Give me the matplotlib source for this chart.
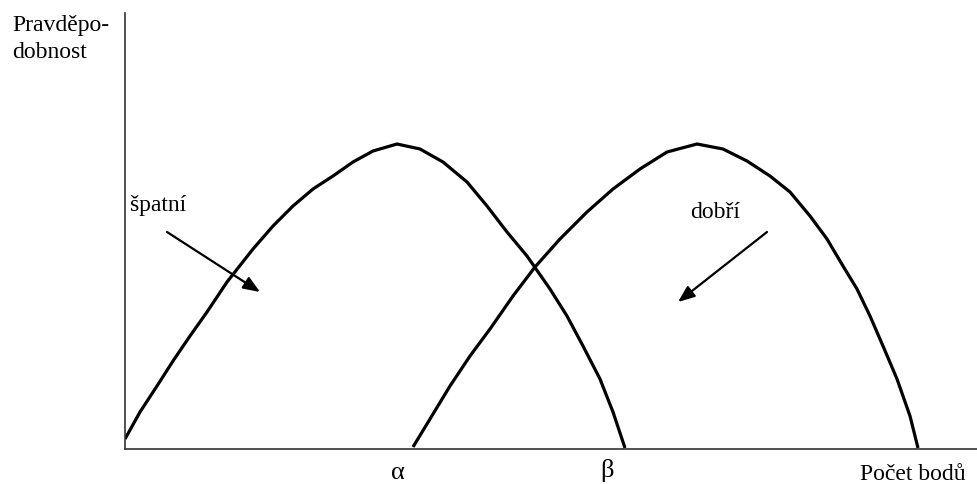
import matplotlib
matplotlib.use("Agg")
import matplotlib.pyplot as plt

plt.rcParams["font.family"] = ["Liberation Serif", "DejaVu Serif"]

# curve points (x: distance along axis, y: height above axis)
bad_x = [0, 15, 32, 48, 65, 82, 102, 128, 148, 168, 188, 208, 228, 248, 272,
         295, 318, 342, 362, 382, 402, 425, 442, 458, 475, 488, 500]
bad_y = [10, 37, 63, 88, 113, 137, 167, 200, 223, 243, 260, 273, 287, 298, 305,
         300, 287, 267, 243, 217, 193, 160, 133, 103, 70, 37, 1]

good_x = [288, 305, 325, 345, 365, 388, 410, 435, 462, 488, 515, 542, 572,
          598, 622, 645, 665, 685, 702, 718, 732, 745, 758, 772, 785, 793]
good_y = [2, 30, 63, 93, 120, 153, 182, 210, 237, 260, 280, 297, 305,
          300, 288, 273, 257, 233, 210, 183, 160, 133, 103, 70, 33, 1]

fig = plt.figure(figsize=(9.78, 4.85), dpi=100)
ax = fig.add_axes([125 / 978, 35 / 485, 853 / 978, 436 / 485])
ax.set_xlim(0, 853)
ax.set_ylim(0, 436)

ax.plot(bad_x, bad_y, color="black", lw=2.3, solid_joinstyle="round", solid_capstyle="butt")
ax.plot(good_x, good_y, color="black", lw=2.3, solid_joinstyle="round", solid_capstyle="butt")

for s in ["top", "right"]:
    ax.spines[s].set_visible(False)
for s in ["left", "bottom"]:
    ax.spines[s].set_color("#333333")
    ax.spines[s].set_linewidth(1.2)
ax.set_xticks([])
ax.set_yticks([])

fs = 17
ax.text(-113, 425, "Pravděpo-", fontsize=fs, ha="left", va="center", clip_on=False)
ax.text(-113, 398, "dobnost", fontsize=fs, ha="left", va="center", clip_on=False)
ax.text(5, 245, "špatní", fontsize=fs, ha="left", va="center")
ax.text(565, 238, "dobří", fontsize=fs, ha="left", va="center")
ax.text(273, -23, "α", fontsize=fs + 2, ha="center", va="center", clip_on=False)
ax.text(482, -21, "β", fontsize=fs + 2, ha="center", va="center", clip_on=False)
ax.text(735, -25, "Počet bodů", fontsize=fs, ha="left", va="center", clip_on=False)

arrow = dict(arrowstyle="-|>,head_length=1.0,head_width=0.4", color="black", lw=1.6,
             shrinkA=0, shrinkB=0)
ax.annotate("", xy=(135, 157), xytext=(42, 217), arrowprops=arrow)
ax.annotate("", xy=(553, 147), xytext=(642, 217), arrowprops=arrow)

fig.savefig("out.png", dpi=100, facecolor="white")
